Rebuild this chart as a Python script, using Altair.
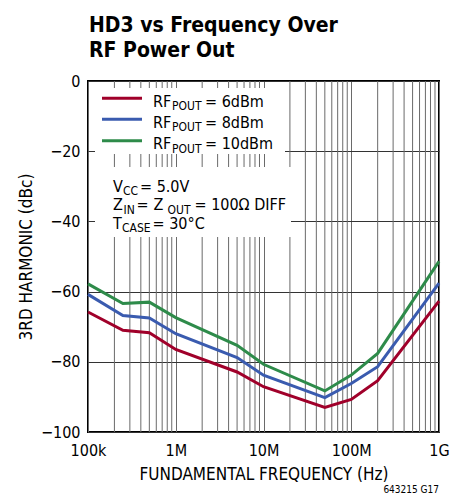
import altair as alt
import pandas as pd

# ---- data ----
freq = [1e5, 2.5e5, 5e5, 1e6, 5e6, 1e7, 5e7, 1e8, 2e8, 1e9]
hd3_6dbm = [-65.8, -71.0, -71.7, -76.5, -82.9, -87.1, -93.0, -90.7, -85.4, -62.7]
hd3_8dbm = [-60.8, -66.8, -67.5, -72.0, -78.8, -83.8, -90.2, -86.2, -81.4, -57.6]
hd3_10dbm = [-57.8, -63.4, -63.0, -67.4, -75.3, -80.7, -88.3, -83.8, -77.6, -51.4]
series_names = ["6dBm", "8dBm", "10dBm"]
series_colors = ["#A0002A", "#3A5BAF", "#2E8B4A"]
decade_ticks = [1e5, 1e6, 1e7, 1e8, 1e9]
decade_labels = ["100k", "1M", "10M", "100M", "1G"]
minor_grid = [2e5, 3e5, 4e5, 5e5, 6e5, 7e5, 8e5, 9e5,
              2e6, 3e6, 4e6, 5e6, 6e6, 7e6, 8e6, 9e6,
              2e7, 3e7, 4e7, 5e7, 6e7, 7e7, 8e7, 9e7,
              2e8, 3e8, 4e8, 5e8, 6e8, 7e8, 8e8, 9e8]
y_ticks = [-100, -80, -60, -40, -20, 0]

FONT = "DejaVu Sans Condensed"
W, H = 351, 351

rows = []
for name, vals in zip(series_names, [hd3_6dbm, hd3_8dbm, hd3_10dbm]):
    for f, v in zip(freq, vals):
        rows.append({"freq": f, "hd3": v, "series": name})
df = pd.DataFrame(rows)

xscale = alt.Scale(type="log", domain=[1e5, 1e9], nice=False)
yscale = alt.Scale(domain=[-100, 0], nice=False, zero=False)

label_expr = " : ".join(
    f"datum.value == {int(v)} ? '{l}'" for v, l in zip(decade_ticks, decade_labels)
) + " : ''"

xaxis = alt.Axis(values=decade_ticks, labelExpr=label_expr,
                 title="FUNDAMENTAL FREQUENCY (Hz)", grid=True,
                 gridColor="#6a6a6a", gridOpacity=1, ticks=False,
                 domain=False, labelPadding=10, titlePadding=8, labelFlush=False)

minor = alt.Chart(pd.DataFrame({"f": minor_grid})).mark_rule(
    color="#6a6a6a", strokeWidth=1
).encode(x=alt.X("f:Q", scale=xscale, axis=xaxis))

lines = alt.Chart(df).mark_line(strokeWidth=3).encode(
    x=alt.X("freq:Q", scale=xscale, axis=xaxis),
    y=alt.Y("hd3:Q", scale=yscale,
            axis=alt.Axis(values=y_ticks, title="3RD HARMONIC (dBc)", grid=True,
                          gridColor="#333333", gridOpacity=1, ticks=False,
                          domain=False, labelPadding=8, titlePadding=5)),
    color=alt.Color("series:N", scale=alt.Scale(domain=series_names, range=series_colors),
                    legend=None),
    detail="series:N",
)

# white boxes behind the legend and the conditions note
box1 = alt.Chart(pd.DataFrame({"a": [0]})).mark_rect(color="white").encode(
    x=alt.value(7), x2=alt.value(197), y=alt.value(7), y2=alt.value(73))
box2 = alt.Chart(pd.DataFrame({"a": [0]})).mark_rect(color="white").encode(
    x=alt.value(7), x2=alt.value(203), y=alt.value(86), y2=alt.value(156))


def txt(s, x, y, size=16, weight="normal", align="left", color="black"):
    return alt.Chart(pd.DataFrame({"a": [0]})).mark_text(
        font=FONT, fontSize=size, fontWeight=weight, align=align,
        baseline="alphabetic", color=color
    ).encode(x=alt.value(x), y=alt.value(y), text=alt.value(s))


def rule(x1, x2, y, color):
    return alt.Chart(pd.DataFrame({"a": [0]})).mark_rule(
        color=color, strokeWidth=3).encode(
        x=alt.value(x1), x2=alt.value(x2), y=alt.value(y))


layers = [minor, box1, box2, lines]

SUB = 12
legend_y = [17.3, 38.3, 59.7]
for name, col, ly in zip(series_names, series_colors, legend_y):
    layers.append(rule(14, 54, ly, col))
    layers.append(txt("RF", 65, ly + 8.5))
    layers.append(txt("POUT", 84, ly + 12, size=SUB))
    layers.append(txt("= " + name, 117, ly + 8.5))

# conditions note
layers += [
    txt("V", 25, 110.7), txt("CC", 35, 114, size=SUB), txt("= 5.0V", 52, 110.7),
    txt("Z", 25, 129), txt("IN", 35.5, 132.5, size=SUB), txt("=", 48.5, 129),
    txt("Z", 65.5, 129),
    txt("OUT", 79.5, 132.5, size=SUB), txt("= 100Ω DIFF", 106.5, 129),
    txt("T", 25, 147.5), txt("CASE", 34, 151, size=SUB), txt("= 30°C", 64.5, 147.5),
]

# title
layers += [
    txt("HD3 vs Frequency Over", 1, -49.5, size=21, weight="bold"),
    txt("RF Power Out", 1, -24.5, size=21, weight="bold"),
    txt("643215 G17", 351, 412, size=10, align="right"),
]

chart = alt.layer(*layers).properties(
    width=W, height=H,
    padding={"left": 80, "top": 73, "right": 12, "bottom": 68},
    autosize=alt.AutoSizeParams(type="none"),
).configure_view(
    stroke="black", strokeWidth=2
).configure_axis(
    labelFont=FONT, titleFont=FONT, labelFontSize=16, titleFontSize=17,
    labelColor="black", titleColor="black", titleFontWeight="normal",
)

chart.save("out.html", embed_options={"renderer": "svg", "actions": False})
